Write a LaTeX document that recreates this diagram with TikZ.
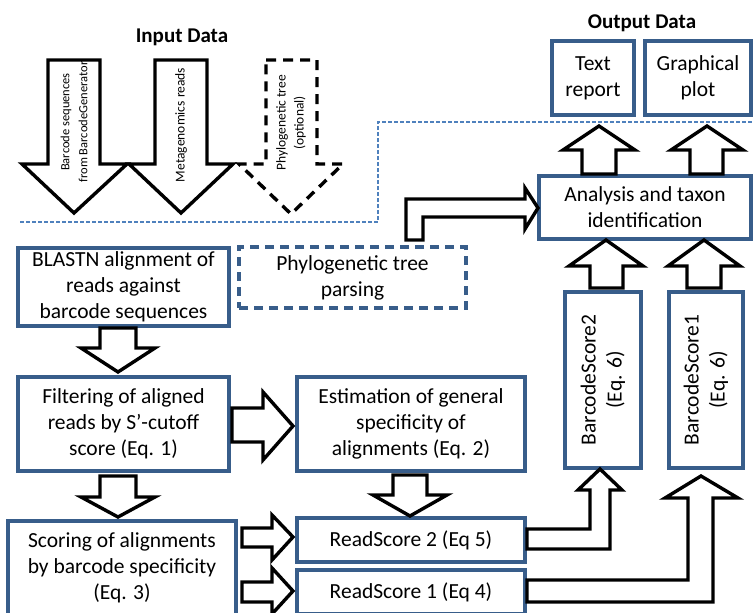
\documentclass[tikz,border=0pt]{standalone}
\usepackage{fontspec}
\setmainfont{Carlito}
\definecolor{boxblue}{RGB}{56,93,138}
\definecolor{lineblue}{RGB}{79,129,189}
\tikzset{
  box/.style={draw=boxblue,line width=3.2pt,rectangle,inner sep=0pt,align=center,
    font=\fontsize{21.5}{26}\selectfont},
  dashbox/.style={box,dash pattern=on 9pt off 6pt},
  blockarrow/.style={draw=black,line width=3.4pt,fill=white,line join=miter},
  title/.style={font=\fontsize{21}{25}\bfseries\selectfont},
  inlabel/.style={rotate=90,align=center,font=\fontsize{13.5}{18}\selectfont}
}
\begin{document}
\begin{tikzpicture}[x=1pt,y=-1pt]
\useasboundingbox (0,0) rectangle (753,613);
\node [title] (indata) at (182,37) {Input Data};
\node [title] (outdata) at (642,23) {Output Data};
\draw [blockarrow] (48,60) -- (100,60) -- (100,164) -- (127,164) -- (74,213) -- (22,164) -- (48,164) -- cycle;
\draw [blockarrow] (155,60) -- (207,60) -- (207,164) -- (233,164) -- (181,213) -- (129,164) -- (155,164) -- cycle;
\draw [blockarrow,dash pattern=on 10pt off 7pt] (266,60) -- (317,60) -- (317,164) -- (343,164) -- (291,214) -- (239,164) -- (266,164) -- cycle;
\node [inlabel,font=\fontsize{12.5}{18}\selectfont] (inbarcode) at (74,122) {Barcode sequences\\from BarcodeGenerator};
\node [inlabel] (inreads) at (181,125) {Metagenomics reads};
\node [inlabel] (intree) at (291,123) {Phylogenetic tree\\(optional)};
\draw [lineblue,line width=1.6pt,dash pattern=on 4pt off 2pt] (20,222) -- (378,222) -- (378,122) -- (753,122);
\node [box,minimum width=82pt,minimum height=74pt] (textrep) at (593,78) {Text\\report};
\node [box,minimum width=106pt,minimum height=74pt] (graphplot) at (698,78) {Graphical\\plot};
\node [box,minimum width=212pt,minimum height=63pt] (analysis) at (645,207.5) {Analysis and taxon\\identification};
\node [box,minimum width=211pt,minimum height=78pt] (blast) at (123.5,287) {BLASTN alignment of\\reads against\\barcode sequences};
\node [dashbox,minimum width=227pt,minimum height=61pt] (phylo) at (352.5,277.5) {Phylogenetic tree\\parsing};
\node [box,minimum width=211pt,minimum height=94pt] (filter) at (123.5,424) {Filtering of aligned\\reads by S’-cutoff\\score (Eq. 1)};
\node [box,minimum width=228pt,minimum height=94pt] (estim) at (411,424) {Estimation of general\\specificity of\\alignments (Eq. 2)};
\node [box,minimum width=228pt,minimum height=94pt] (scoring) at (122,568) {Scoring of alignments\\by barcode specificity\\(Eq. 3)};
\node [box,minimum width=228pt,minimum height=44pt] (rs2) at (411,540) {ReadScore 2 (Eq 5)};
\node [box,minimum width=228pt,minimum height=44pt] (rs1) at (411,592) {ReadScore 1 (Eq 4)};
\node [box,rotate=90,minimum width=176pt,minimum height=76pt] (bs2) at (603,380) {BarcodeScore2\\(Eq. 6)};
\node [box,rotate=90,minimum width=176pt,minimum height=74pt] (bs1) at (706,380) {BarcodeScore1\\(Eq. 6)};
\draw [blockarrow] (582,174) -- (582,150) -- (563,150) -- (599,126) -- (635,150) -- (616,150) -- (616,174) -- cycle;
\draw [blockarrow] (690,174) -- (690,150) -- (671,150) -- (707,126) -- (743,150) -- (723,150) -- (723,174) -- cycle;
\draw [blockarrow] (590,288) -- (590,266) -- (569,266) -- (606,240) -- (643,266) -- (623,266) -- (623,288) -- cycle;
\draw [blockarrow] (687,288) -- (687,266) -- (668,266) -- (704,240) -- (740,266) -- (721,266) -- (721,288) -- cycle;
\draw [blockarrow] (100,328) -- (136,328) -- (136,348) -- (155,348) -- (118,372) -- (81,348) -- (100,348) -- cycle;
\draw [blockarrow] (100,476) -- (136,476) -- (136,497) -- (155,497) -- (118,517) -- (81,497) -- (100,497) -- cycle;
\draw [blockarrow] (393,475) -- (427,475) -- (427,495) -- (447,495) -- (410,516) -- (373,495) -- (393,495) -- cycle;
\draw [blockarrow] (232,408) -- (263,408) -- (263,392) -- (293,426) -- (263,460) -- (263,442) -- (232,442) -- cycle;
\draw [blockarrow] (242,528) -- (272,528) -- (272,515) -- (293,537) -- (272,560) -- (272,547) -- (242,547) -- cycle;
\draw [blockarrow] (242,582) -- (272,582) -- (272,568) -- (293,591) -- (272,614) -- (272,602) -- (242,602) -- cycle;
\draw [blockarrow] (406,240) -- (406,199) -- (525,199) -- (525,188) -- (538,208) -- (525,229) -- (525,217) -- (423,217) -- (423,240) -- cycle;
\draw [blockarrow] (527,529) -- (590,529) -- (590,490) -- (578,490) -- (600,469) -- (622,490) -- (610,490) -- (610,549) -- (527,549) -- cycle;
\draw [blockarrow] (527,580) -- (688,580) -- (688,498) -- (665,498) -- (701,476) -- (738,498) -- (713,498) -- (713,602) -- (527,602) -- cycle;
\end{tikzpicture}
\end{document}
